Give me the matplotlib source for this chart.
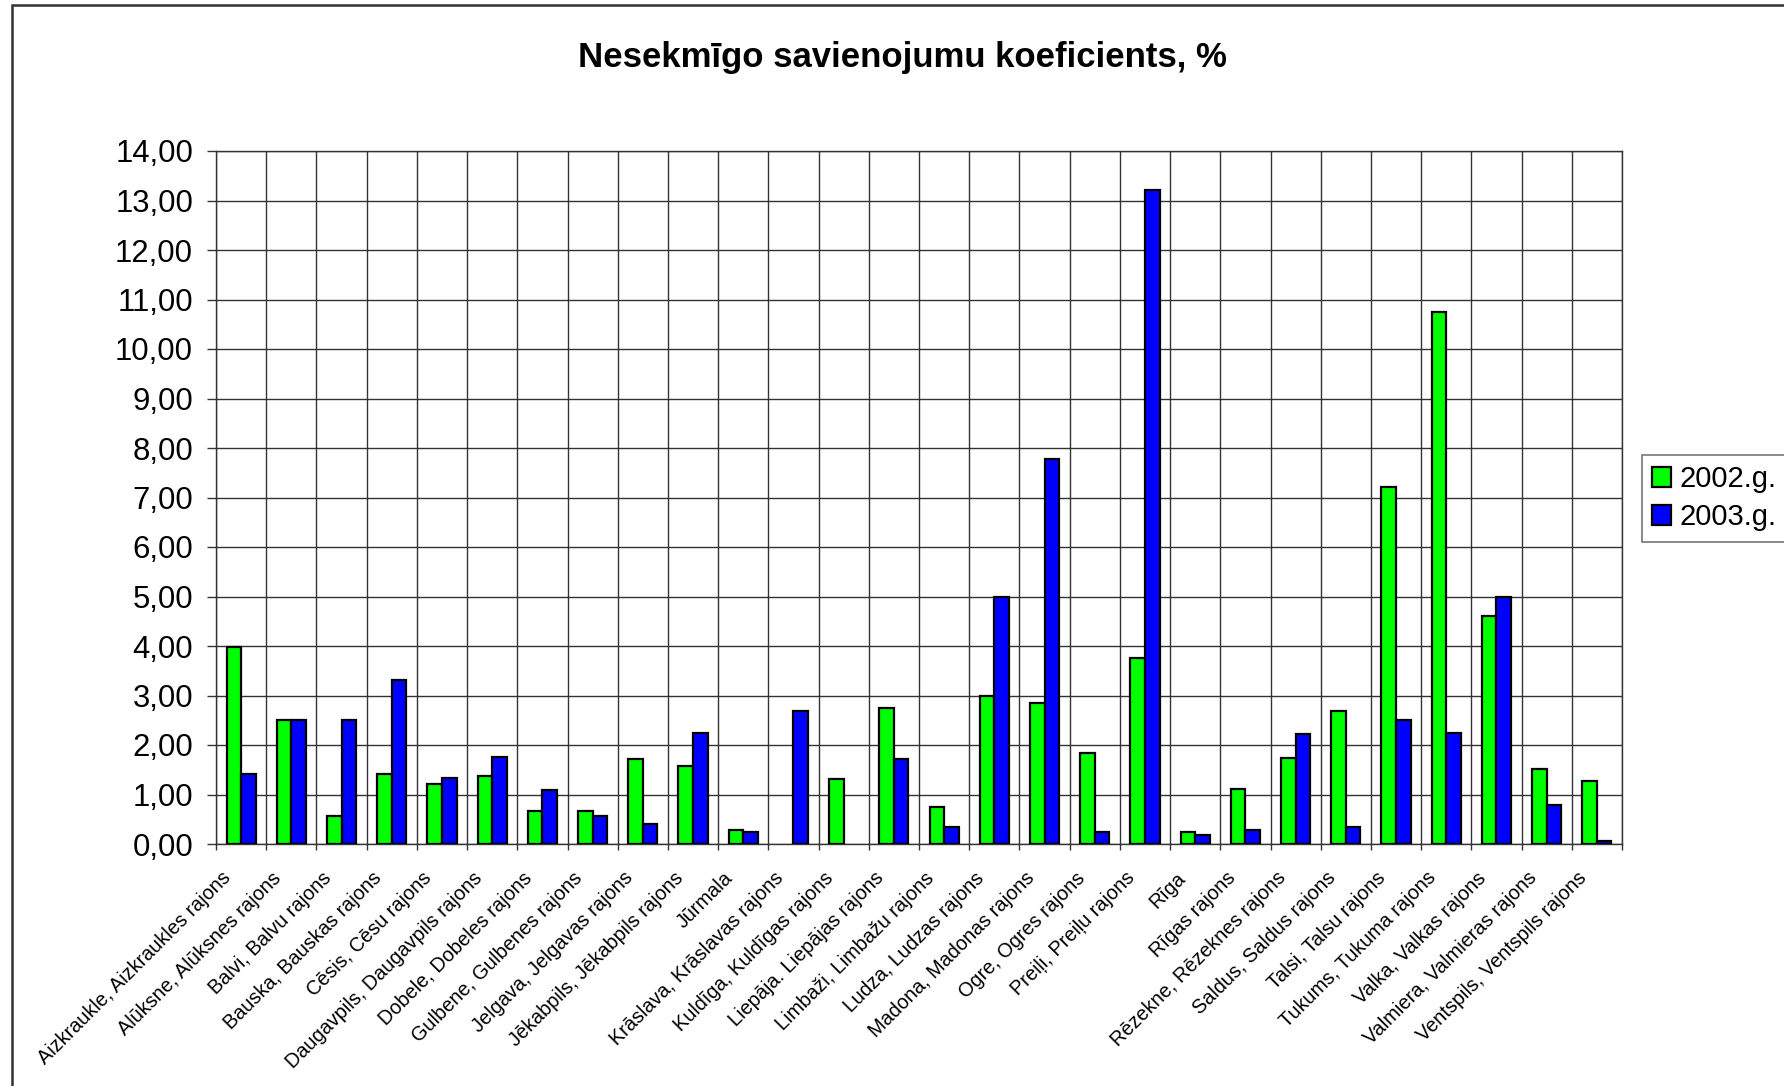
import matplotlib
matplotlib.use("Agg")
import matplotlib.pyplot as plt
from matplotlib.ticker import FuncFormatter, FixedLocator, MultipleLocator, NullFormatter
from matplotlib.patches import Rectangle
from matplotlib.transforms import ScaledTranslation
import numpy as np

plt.rcParams['font.family'] = ['Liberation Sans', 'DejaVu Sans']

categories = [
    "Aizkraukle, Aizkraukles rajons", "Alūksne, Alūksnes rajons", "Balvi, Balvu rajons",
    "Bauska, Bauskas rajons", "Cēsis, Cēsu rajons", "Daugavpils, Daugavpils rajons",
    "Dobele, Dobeles rajons", "Gulbene, Gulbenes rajons", "Jelgava, Jelgavas rajons",
    "Jēkabpils, Jēkabpils rajons", "Jūrmala", "Krāslava, Krāslavas rajons",
    "Kuldīga, Kuldīgas rajons", "Liepāja. Liepājas rajons", "Limbaži, Limbažu rajons",
    "Ludza, Ludzas rajons", "Madona, Madonas rajons", "Ogre, Ogres rajons",
    "Preiļi, Preiļu rajons", "Rīga", "Rīgas rajons", "Rēzekne, Rēzeknes rajons",
    "Saldus, Saldus rajons", "Talsi, Talsu rajons", "Tukums, Tukuma rajons",
    "Valka, Valkas rajons", "Valmiera, Valmieras rajons", "Ventspils, Ventspils rajons",
]
values_2002 = [3.97, 2.50, 0.56, 1.41, 1.21, 1.38, 0.66, 0.66, 1.72, 1.57, 0.28, 0.00,
               1.31, 2.74, 0.75, 2.98, 2.85, 1.84, 3.75, 0.24, 1.12, 1.73, 2.68, 7.21,
               10.75, 4.61, 1.51, 1.28]
values_2003 = [1.41, 2.50, 2.50, 3.31, 1.34, 1.75, 1.10, 0.56, 0.40, 2.24, 0.24, 2.68,
               0.00, 1.72, 0.35, 5.00, 7.78, 0.25, 13.21, 0.19, 0.28, 2.23, 0.35, 2.50,
               2.24, 5.00, 0.78, 0.07]
series_labels = ["2002.g.", "2003.g."]
title = "Nesekmīgo savienojumu koeficients, %"

fig = plt.figure(figsize=(17.84, 10.86), dpi=100)
ax = fig.add_axes([216/1784, 1-844/1086, (1622-216)/1784, (844-151)/1086])

x = np.arange(len(categories))
w = 0.29
b1 = ax.bar(x - w/2, values_2002, w, color='#00FF00', edgecolor='black', linewidth=1.6,
            label=series_labels[0], zorder=3)
b2 = ax.bar(x + w/2, values_2003, w, color='#0000FF', edgecolor='black', linewidth=1.6,
            label=series_labels[1], zorder=3)
for bars, vals in ((b1, values_2002), (b2, values_2003)):
    for p, v in zip(bars.patches, vals):
        if v == 0:
            p.set_visible(False)

ax.set_xlim(-0.5, len(categories) - 0.5)
ax.set_ylim(0, 14)
ax.yaxis.set_major_locator(MultipleLocator(1))
ax.yaxis.set_major_formatter(FuncFormatter(lambda v, p: f"{v:.2f}".replace('.', ',')))

# category labels, rotated 45 degrees, anchored at their right end below each category
ax.set_xticks(x)
ax.xaxis.set_major_formatter(NullFormatter())
label_tr = ax.get_xaxis_transform() + ScaledTranslation(-13/100, -31/100, fig.dpi_scale_trans)
for xi, name in zip(x, categories):
    ax.text(xi, 0, name, transform=label_tr, rotation=45, ha='right', va='center',
            rotation_mode='anchor', fontsize=14.3, clip_on=False)

ax.xaxis.set_minor_locator(FixedLocator(np.arange(-0.5, len(categories), 1.0)))
ax.tick_params(axis='x', which='major', length=0)
ax.tick_params(axis='x', which='minor', length=4, width=1, direction='out', color='#333333')
ax.tick_params(axis='y', which='major', length=6.5, width=1, direction='out', labelsize=22.4,
               pad=10, color='#333333')

ax.grid(axis='y', which='major', color='#333333', linewidth=1.0, zorder=0)
ax.grid(axis='x', which='minor', color='#333333', linewidth=1.0, zorder=0)
ax.set_axisbelow(True)
for s in ax.spines.values():
    s.set_color('#333333')
    s.set_linewidth(1.0)

fig.text(902/1784, 1-57/1086, title, ha='center', va='center', fontsize=25, fontweight='bold')

leg = fig.legend(loc='upper left', bbox_to_anchor=(1642/1784, 1-455/1086),
                 fontsize=21, frameon=True, fancybox=False, edgecolor='#555555',
                 handlelength=0.65, handleheight=0.65, handletextpad=0.3,
                 borderpad=0.35, labelspacing=0.35, borderaxespad=0)
leg.get_frame().set_linewidth(1.2)

fig.patches.append(Rectangle((12/1784, -0.1), 2.0, 1.1 - 5/1086, transform=fig.transFigure,
                             fill=False, edgecolor='#333333', linewidth=1.8, zorder=0))

fig.savefig("out.png", dpi=100, facecolor='white')
